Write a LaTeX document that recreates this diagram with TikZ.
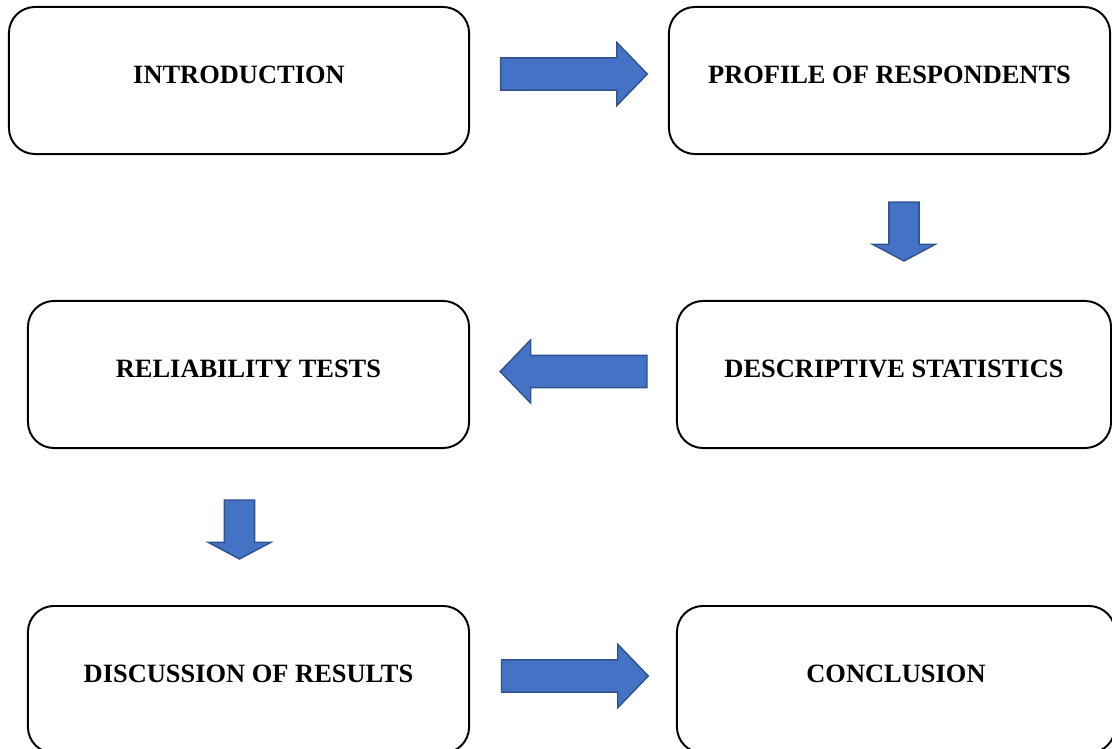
\documentclass[tikz,border=0pt]{standalone}
\usepackage{fontspec}
\setmainfont{Liberation Serif}
\usetikzlibrary{shapes.arrows}
\definecolor{arrfill}{RGB}{68,114,196}
\definecolor{arrline}{RGB}{47,82,143}
\begin{document}
\begin{tikzpicture}[x=0.025cm, y=-0.025cm,
    stage/.style={draw, line width=1.4pt, rounded corners=0.65cm, minimum height=3.675cm,
        align=center, font=\fontsize{18.8}{22}\selectfont\bfseries, text height=0.45cm, text depth=0.3cm},
    blockarrow/.style={single arrow, draw=arrline, fill=arrfill, line width=1pt,
        inner xsep=0pt, outer sep=0pt, minimum width=1.55cm, anchor=tail},
    sidearrow/.style={blockarrow, minimum height=3.67cm, inner ysep=0.385cm,
        single arrow head extend=0.39cm, single arrow tip angle=92},
    downarrow/.style={blockarrow, minimum height=1.475cm, inner ysep=0.36cm,
        single arrow head extend=0.41cm, single arrow tip angle=124, rotate=-90}]
    \clip (0,0) rectangle (1112,749);
    % stages
    \node[stage, minimum width=11.5cm]   (intro)   at (239,80.5)   {INTRODUCTION};
    \node[stage, minimum width=11.025cm] (profile) at (889.5,80.5) {PROFILE OF RESPONDENTS};
    \node[stage, minimum width=10.85cm]  (descr)   at (894,374.5)  {DESCRIPTIVE STATISTICS};
    \node[stage, minimum width=11.025cm] (reliab)  at (248.5,374.5) {RELIABILITY TESTS};
    \node[stage, minimum width=11.025cm] (discuss) at (248.5,679.5) {DISCUSSION OF RESULTS};
    \node[stage, minimum width=10.95cm]  (concl)   at (896,679.5)  {CONCLUSION};
    % block arrows, placed by their tails
    \node[sidearrow] (a1) at (500.5,74) {};
    \node[downarrow] (a2) at (904,202) {};
    \node[sidearrow, rotate=180] (a3) at (647,371.5) {};
    \node[downarrow] (a4) at (239.5,500) {};
    \node[sidearrow] (a5) at (501.5,676) {};
\end{tikzpicture}
\end{document}
